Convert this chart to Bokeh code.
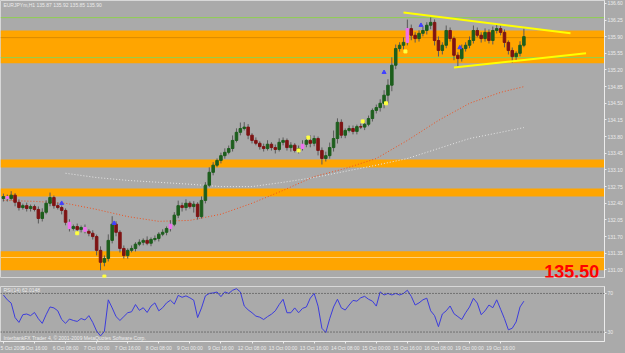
from bokeh.plotting import figure
from bokeh.models import (ColumnDataSource, Range1d, FixedTicker, NumeralTickFormatter,
                          Label, Span, BoxAnnotation)
from bokeh.layouts import column
from bokeh.embed import file_html
from bokeh.resources import INLINE

# ---------------- data ----------------
title_text = "EURJPYm,H1  135.87 135.92 135.85 135.90"
rsi_title = "RSI(14) 62.0148"
copyright_text = "InterbankFX Trader 4, \u00a9 2001-2009 MetaQuotes Software Corp."

hour_step = 2
open0 = 132.50
close = [132.54, 132.50, 132.57, 132.42, 132.31, 132.35, 132.29, 132.33, 132.27, 132.08,
         132.21, 132.40, 132.52, 132.35, 132.31, 132.25, 132.00, 131.87, 131.91, 131.85,
         131.89, 131.81, 131.77, 131.70, 131.41, 131.16, 131.24, 131.62, 131.96, 131.79,
         131.45, 131.30, 131.41, 131.45, 131.54, 131.58, 131.62, 131.56, 131.64, 131.66,
         131.75, 131.79, 131.87, 131.96, 132.15, 132.35, 132.31, 132.40, 132.33, 132.38,
         132.12, 132.46, 132.78, 133.05, 133.20, 133.30, 133.40, 133.47, 133.55, 133.72,
         133.89, 133.97, 134.00, 133.83, 133.72, 133.66, 133.59, 133.55, 133.64, 133.57,
         133.53, 133.68, 133.72, 133.57, 133.62, 133.51, 133.55, 133.64, 133.72, 133.66,
         133.76, 133.51, 133.34, 133.40, 133.57, 133.76, 134.10, 133.83, 133.93, 133.97,
         133.91, 134.01, 134.00, 134.06, 134.18, 134.35, 134.41, 134.50, 134.67, 134.88,
         135.30, 135.65, 135.72, 135.78, 136.07, 135.93, 135.86, 135.97, 136.03, 136.14,
         136.20, 135.82, 135.61, 135.72, 136.03, 135.86, 135.51, 135.44, 135.65, 135.72,
         135.82, 136.03, 135.93, 135.86, 135.99, 135.82, 136.03, 136.07, 135.99, 135.78,
         135.61, 135.48, 135.55, 135.72, 135.90]
wick_up = [3, 2, 4, 2, 3, 2, 3, 2, 2, 3, 4, 3, 5, 2, 3, 2, 2, 3, 2, 3,
           2, 3, 2, 3, 2, 4, 3, 6, 8, 3, 2, 3, 2, 3, 2, 3, 2, 4, 2, 3,
           2, 3, 2, 4, 3, 5, 3, 4, 2, 3, 2, 4, 3, 5, 3, 2, 3, 4, 3, 5,
           4, 6, 5, 3, 2, 3, 2, 3, 4, 2, 3, 4, 3, 2, 3, 2, 3, 4, 3, 5,
           3, 2, 3, 4, 5, 8, 4, 3, 2, 3, 3, 2, 3, 4, 3, 2, 3, 4, 5, 6,
           8, 4, 3, 5, 9, 4, 3, 3, 4, 3, 5, 3, 4, 3, 5, 3, 2, 3, 4, 3,
           4, 5, 3, 3, 4, 3, 4, 5, 3, 3, 2, 3, 2, 4, 8]
wick_dn = [3, 3, 2, 4, 3, 2, 3, 3, 2, 5, 3, 2, 3, 3, 2, 4, 3, 3, 2, 3,
           3, 2, 3, 3, 5, 8, 4, 3, 3, 4, 4, 3, 3, 2, 3, 2, 3, 2, 3, 2,
           3, 2, 3, 3, 2, 3, 4, 3, 2, 6, 3, 2, 3, 2, 3, 2, 3, 3, 2, 3,
           2, 3, 2, 4, 3, 2, 3, 3, 2, 3, 4, 2, 3, 3, 4, 2, 3, 2, 3, 4,
           3, 5, 6, 3, 3, 4, 5, 3, 3, 2, 3, 3, 2, 3, 2, 3, 3, 4, 5, 8,
           6, 4, 3, 4, 3, 5, 4, 3, 3, 4, 4, 5, 6, 4, 3, 3, 5, 8, 3, 3,
           3, 3, 2, 4, 3, 3, 4, 3, 3, 5, 4, 6, 4, 3, 2]
wick_unit = 0.021
pin_bars = [1, 17, 21, 43, 77, 104]

rsi = [68.4, 63.4, 60.0, 45.0, 40.0, 48.0, 48.7, 47.0, 50.3, 43.8,
       39.0, 48.0, 56.0, 55.0, 52.0, 43.0, 39.0, 43.5, 42.0, 41.0,
       44.0, 42.5, 47.0, 40.0, 31.0, 26.0, 30.7, 63.4, 55.0, 46.0,
       42.0, 46.0, 50.0, 51.0, 58.5, 52.5, 55.2, 50.3, 56.9, 60.2,
       52.0, 55.2, 60.2, 63.0, 59.0, 68.0, 66.0, 67.5, 65.5, 63.0,
       45.0, 55.0, 67.5, 70.0, 70.5, 71.5, 66.7, 71.6, 70.0, 73.3,
       74.9, 71.6, 57.0, 53.0, 50.0, 46.5, 45.4, 43.0, 46.0, 48.5,
       52.0, 58.5, 64.0, 50.0, 50.0, 55.0, 50.0, 54.5, 56.0, 65.1,
       70.0, 56.9, 33.9, 29.5, 43.8, 56.0, 64.0, 55.0, 52.8, 58.0,
       62.8, 62.0, 65.5, 67.0, 64.0, 62.0, 56.9, 71.6, 68.4, 70.0,
       68.4, 70.0, 68.4, 70.0, 73.3, 67.0, 58.0, 60.2, 63.4, 65.1,
       52.0, 47.0, 35.6, 48.7, 52.0, 57.0, 49.0, 46.0, 43.0, 50.0,
       56.0, 65.0, 60.0, 48.0, 52.0, 58.0, 55.2, 63.4, 53.6, 43.8,
       32.3, 33.9, 40.5, 56.0, 62.0]
rsi_levels = [70, 30]

ma_hours = [0, 16, 32, 48, 64, 80, 96, 112, 128, 144, 160, 176, 192, 208, 224, 240, 256, 268]
ma_red = [132.46, 132.44, 132.40, 132.27, 132.12, 132.02, 132.04, 132.17, 132.40, 132.67,
          132.96, 133.13, 133.34, 133.72, 134.14, 134.50, 134.73, 134.85]
ma_white = [float("nan"), float("nan"), 133.03, 132.94, 132.88, 132.84, 132.80, 132.75, 132.75,
            132.84, 132.94, 133.07, 133.20, 133.34, 133.55, 133.76, 133.89, 133.99]

tick_hours = [0, 16, 32, 48, 64, 80, 96, 112, 128, 144, 160, 176, 192, 208, 224, 240, 256]
tick_labels = ["5 Oct 2009", "5 Oct 16:00", "6 Oct 08:00", "7 Oct 00:00", "7 Oct 16:00",
               "8 Oct 08:00", "9 Oct 00:00", "9 Oct 16:00", "12 Oct 08:00", "13 Oct 00:00",
               "13 Oct 16:00", "14 Oct 08:00", "15 Oct 00:00", "15 Oct 16:00", "16 Oct 08:00",
               "19 Oct 00:00", "19 Oct 16:00"]
price_ticks = [136.60, 136.25, 135.90, 135.55, 135.20, 134.85, 134.50, 134.15, 133.80,
               133.45, 133.10, 132.75, 132.40, 132.05, 131.70, 131.35, 131.00]

zone_top = [136.03, 133.32, 132.71, 131.39]
zone_bottom = [135.34, 133.15, 132.54, 130.99]
green_levels = [136.30, 135.46]
bid_level = 135.88
yellow_level = 131.26
target_text = "135.50"

trend_up_h = [206, 292]
trend_up_p = [136.41, 135.97]
trend_dn_h = [232, 300]
trend_dn_p = [135.25, 135.55]

up_mark_h = [30, 57, 196, 215, 235]
up_mark_p = [132.40, 131.98, 135.15, 136.14, 135.67]
dn_mark_h = [38, 52, 152, 157, 185, 197, 207]
dn_mark_p = [131.77, 130.86, 133.51, 133.78, 134.12, 134.50, 135.59]

# ---------------- styling ----------------
BG = "#aaaaaa"
ORANGE = "#ffa500"
BULL = "#1d5e1d"
BEAR = "#7e1414"
PIN = "#f070f0"
WICK = "#5a5a5a"
LIGHT = "#ececec"
FONT = "Liberation Sans"

n = len(close)
hours = [hour_step * i for i in range(n)]
opens = [open0] + close[:-1]
highs = [max(o, c) + u * wick_unit for o, c, u in zip(opens, close, wick_up)]
lows = [min(o, c) - d * wick_unit for o, c, d in zip(opens, close, wick_dn)]
cols = []
for i, (o, c) in enumerate(zip(opens, close)):
    if i in pin_bars:
        cols.append(PIN)
    else:
        cols.append(BULL if c >= o else BEAR)

src = ColumnDataSource(dict(h=hours, o=opens, c=close, hi=highs, lo=lows, col=cols,
                            top=[max(o, c) for o, c in zip(opens, close)],
                            bot=[min(o, c) for o, c in zip(opens, close)]))

xr = Range1d(-1.5, 309.5)

p = figure(width=625, height=282, x_range=xr, y_range=Range1d(130.84, 136.66),
           output_backend="svg", toolbar_location=None, x_axis_location=None,
           y_axis_location="right", min_border_left=0, min_border_right=20,
           min_border_top=0, min_border_bottom=5)
p.background_fill_color = BG
p.border_fill_color = BG
p.outline_line_color = "#d8d8d8"
p.xgrid.visible = False
p.ygrid.visible = False

ya = p.yaxis[0]
ya.ticker = FixedTicker(ticks=price_ticks)
ya.formatter = NumeralTickFormatter(format="0.00")
ya.major_label_text_font_size = "5px"
ya.major_label_text_color = LIGHT
ya.major_label_text_font = FONT
ya.major_label_standoff = 1
ya.major_tick_out = 2
ya.major_tick_in = 0
ya.minor_tick_out = 0
ya.minor_tick_in = 0
ya.major_tick_line_color = LIGHT
ya.axis_line_color = LIGHT

for t, b in zip(zone_top, zone_bottom):
    p.add_layout(BoxAnnotation(top=t, bottom=b, fill_color=ORANGE, fill_alpha=1.0,
                               line_alpha=0, level="underlay"))
for g in green_levels:
    p.add_layout(Span(location=g, dimension="width", line_color="#8fd14f",
                      line_width=1, level="underlay"))
p.add_layout(Span(location=bid_level, dimension="width", line_color="#d98b00",
                  line_width=1, level="underlay"))
p.add_layout(Span(location=yellow_level, dimension="width", line_color="#ffd27a",
                  line_width=1, level="underlay"))

p.line(ma_hours, ma_white, line_color="#e6e6e6", line_width=1, line_dash="1 2")
p.line(ma_hours, ma_red, line_color="#f0501e", line_width=1, line_dash="1 2")

p.segment(x0="h", y0="lo", x1="h", y1="hi", line_color=WICK, line_width=1, source=src)
p.vbar(x="h", width=1.3, top="top", bottom="bot", fill_color="col", line_color="col",
       line_width=1, source=src)

p.line(trend_up_h, trend_up_p, line_color="#ffff00", line_width=2)
p.line(trend_dn_h, trend_dn_p, line_color="#ffff00", line_width=2)

p.scatter(up_mark_h, up_mark_p, marker="triangle", size=4, fill_color="#4040ff",
          line_color="#4040ff")
p.scatter(dn_mark_h, dn_mark_p, marker="square", size=3, fill_color="#ffff40",
          line_color="#ffff40")

p.add_layout(Label(x=0, y=136.62, text=title_text, text_font_size="5px",
                   text_color=LIGHT, text_font=FONT, text_baseline="top"))
p.add_layout(Label(x=278.5, y=130.96, text=target_text, text_font_size="18px",
                   text_font_style="bold", text_color="#ff0000", text_font=FONT,
                   text_baseline="middle"))

for lvl, bg, fg in [(green_levels[0], "#66dd22", "#ffffff"),
                    (green_levels[1], "#66dd22", "#ffffff"),
                    (bid_level, "#ffffff", "#555555"),
                    (yellow_level, "#f0e000", "#555555")]:
    p.add_layout(Label(x=606, x_units="screen", y=lvl, text="%.2f" % lvl,
                       text_font_size="5px", text_color=fg, text_font=FONT,
                       text_baseline="middle", background_fill_color=bg, padding=1))

# ---------------- RSI pane ----------------
r = figure(width=625, height=71, x_range=xr, y_range=Range1d(20.2, 77.2),
           output_backend="svg", toolbar_location=None, y_axis_location="right",
           min_border_left=0, min_border_right=20, min_border_top=4, min_border_bottom=9)
r.background_fill_color = BG
r.border_fill_color = BG
r.outline_line_color = "#d8d8d8"
r.xgrid.visible = False
r.ygrid.visible = False
for lv in rsi_levels:
    r.add_layout(Span(location=lv, dimension="width", line_color="#3a3a3a",
                      line_width=1, line_dash="1 2"))
r.line(hours, rsi, line_color="#3c3cdc", line_width=1)

ra = r.yaxis[0]
ra.ticker = FixedTicker(ticks=rsi_levels)
ra.major_label_text_font_size = "5px"
ra.major_label_text_color = LIGHT
ra.major_label_text_font = FONT
ra.major_label_standoff = 1
ra.major_tick_out = 2
ra.major_tick_in = 0
ra.minor_tick_out = 0
ra.minor_tick_in = 0
ra.major_tick_line_color = LIGHT
ra.axis_line_color = LIGHT

xa = r.xaxis[0]
xa.ticker = FixedTicker(ticks=tick_hours)
xa.major_label_overrides = {h: lab for h, lab in zip(tick_hours, tick_labels)}
xa.major_label_text_font_size = "5px"
xa.major_label_text_color = LIGHT
xa.major_label_text_font = FONT
xa.major_label_text_align = "left"
xa.major_label_standoff = 1
xa.major_tick_out = 2
xa.major_tick_in = 0
xa.minor_tick_out = 0
xa.minor_tick_in = 0
xa.major_tick_line_color = LIGHT
xa.axis_line_color = LIGHT

r.add_layout(Label(x=0, y=76.5, text=rsi_title, text_font_size="5px",
                   text_color=LIGHT, text_font=FONT, text_baseline="top"))
r.add_layout(Label(x=0, y=21.0, text=copyright_text, text_font_size="5px",
                   text_color=LIGHT, text_font=FONT, text_baseline="bottom"))

lay = column(p, r, spacing=0)
lay.styles = {"background-color": BG}
open("out.html", "w").write(file_html(lay, INLINE))
